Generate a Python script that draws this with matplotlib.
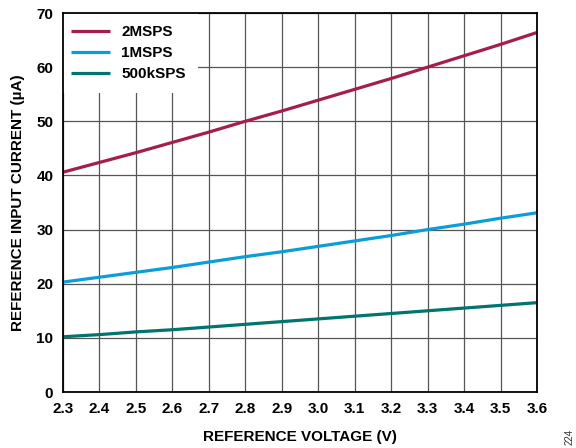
import matplotlib
matplotlib.use("Agg")
import matplotlib.pyplot as plt
import numpy as np

plt.rcParams['font.family'] = ['Liberation Sans', 'DejaVu Sans']
plt.rcParams['font.weight'] = 'bold'

voltage = [2.3, 2.4, 2.5, 2.6, 2.7, 2.8, 2.9, 3.0, 3.1, 3.2, 3.3, 3.4, 3.5, 3.6]
i_2msps = [40.6, 42.4, 44.2, 46.1, 48.0, 50.0, 51.9, 53.9, 55.9, 57.9, 60.0, 62.1, 64.2, 66.4]
i_1msps = [20.3, 21.2, 22.1, 23.0, 24.0, 25.0, 25.9, 26.9, 27.9, 28.9, 30.0, 31.0, 32.1, 33.1]
i_500k = [10.2, 10.6, 11.1, 11.5, 12.0, 12.5, 13.0, 13.5, 14.0, 14.5, 15.0, 15.5, 16.0, 16.5]
series_labels = ["2MSPS", "1MSPS", "500kSPS"]
colors = ["#A41E48", "#0A9ED9", "#00746E"]
x_ticks = [2.3, 2.4, 2.5, 2.6, 2.7, 2.8, 2.9, 3.0, 3.1, 3.2, 3.3, 3.4, 3.5, 3.6]
y_ticks = [0, 10, 20, 30, 40, 50, 60, 70]

fig = plt.figure(figsize=(5.76, 4.48), dpi=100)
ax = fig.add_axes([63/576, 1-392/448, (537-63)/576, (392-13)/448])

for ys, lab, c in zip([i_2msps, i_1msps, i_500k], series_labels, colors):
    ax.plot(voltage, ys, color=c, lw=2.3, label=lab, solid_capstyle='butt', zorder=3)

ax.set_xlim(2.3, 3.6)
ax.set_ylim(0, 70)
ax.set_xticks(x_ticks)
ax.set_xticklabels([f"{v:.1f}" for v in x_ticks])
ax.set_yticks(y_ticks)
ax.grid(True, color='#555555', lw=0.9, zorder=1)
ax.tick_params(length=0, labelsize=11, pad=7)
for s in ax.spines.values():
    s.set_linewidth(1.3)
    s.set_color('black')
    s.set_zorder(7)

ax.set_xlabel("REFERENCE VOLTAGE (V)", fontsize=11, fontweight='bold', labelpad=10)
ax.set_ylabel("REFERENCE INPUT CURRENT (µA)", fontsize=11, fontweight='bold', labelpad=8)

leg = ax.legend(loc='upper left', bbox_to_anchor=(-0.008, 1.0), frameon=True, fancybox=False,
                borderaxespad=0.0, handlelength=2.55, handletextpad=0.7, labelspacing=0.45,
                borderpad=0.8, prop={'weight': 'bold', 'size': 11})
leg.get_frame().set_facecolor('white')
leg.get_frame().set_edgecolor('none')
leg.get_frame().set_alpha(1)
leg.set_zorder(5)

fig.text(570/576, 1-437/448, "224", rotation=90, fontsize=7, fontweight='normal',
         ha='center', va='center', color='#333333')

fig.savefig("out.png", dpi=100)
